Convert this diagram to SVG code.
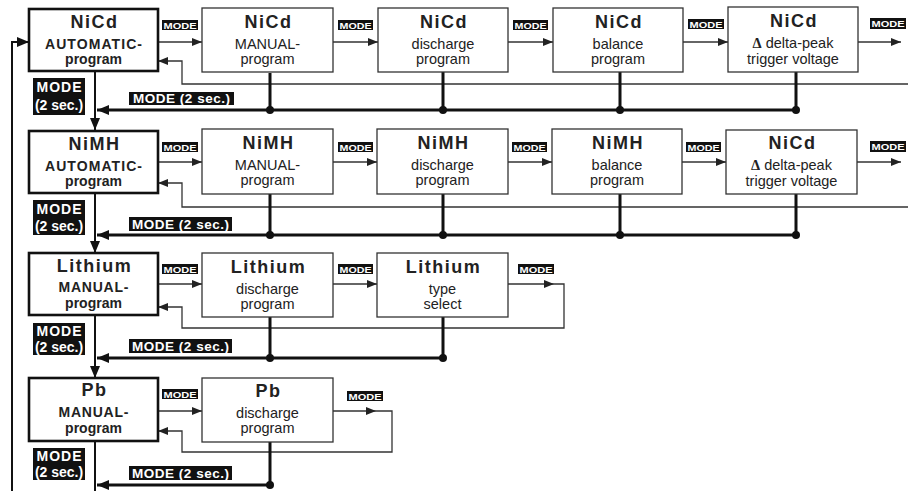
<svg xmlns="http://www.w3.org/2000/svg" width="908" height="491" viewBox="0 0 908 491">
<style>
.box{fill:#fff;stroke:#333;stroke-width:1.3}
.mbox{fill:#fff;stroke:#111;stroke-width:2.6}
.t{font-family:"Liberation Sans",Arial,sans-serif;text-anchor:middle;fill:#222}
.h{font-weight:bold;font-size:18px;letter-spacing:1.5px}
.b{font-weight:bold;font-size:14px}
.r{font-size:14.5px}
.d{font-family:"Liberation Serif","Times New Roman",serif;font-weight:bold}
.thin{fill:none;stroke:#333;stroke-width:1.3}
.med{fill:none;stroke:#111;stroke-width:2}
.thick{fill:none;stroke:#111;stroke-width:3}
.lr{fill:#111}
.lt{font-family:"Liberation Sans",Arial,sans-serif;font-weight:bold;fill:#fff;text-anchor:middle}
.sm{font-size:9.5px}
.bg{font-size:13.5px}
.dot{fill:#111}
.ah{fill:#222}
</style>
<defs>
<marker id="a" markerUnits="userSpaceOnUse" markerWidth="10" markerHeight="8" refX="10" refY="4" orient="auto"><path d="M0,0 L10,4 L0,8 z" fill="#222"/></marker>
<marker id="am" markerUnits="userSpaceOnUse" markerWidth="12" markerHeight="10" refX="12" refY="5" orient="auto"><path d="M0,0 L12,5 L0,10 z" fill="#111"/></marker>
</defs>

<g id="connectors">
<path class="med" d="M12,491 V42 H29" marker-end="url(#am)"/>
<!-- row 1 -->
<path class="med" d="M95,71 V130" marker-end="url(#am)"/>
<path class="thin" d="M158,42 H202" marker-end="url(#a)"/>
<path class="thin" d="M333,42 H378" marker-end="url(#a)"/>
<path class="thin" d="M508,42 H553" marker-end="url(#a)"/>
<path class="thin" d="M683,42 H728" marker-end="url(#a)"/>
<path class="thin" d="M858,42 H901" marker-end="url(#a)"/>
<path class="thin" d="M908,84 H182 V61 H158" marker-end="url(#a)"/>
<path class="thick" d="M270,73 V110 M443,72 V110 M620,72 V110 M796,72 V110"/>
<path class="thick" d="M796,110 H97" marker-end="url(#am)"/>
<circle class="dot" cx="270" cy="110" r="4"/><circle class="dot" cx="443" cy="110" r="4"/><circle class="dot" cx="620" cy="110" r="4"/><circle class="dot" cx="796" cy="110" r="4"/>
<!-- row 2 -->
<path class="med" d="M95,193 V253" marker-end="url(#am)"/>
<path class="thin" d="M158,162 H202" marker-end="url(#a)"/>
<path class="thin" d="M333,162 H377" marker-end="url(#a)"/>
<path class="thin" d="M508,162 H552" marker-end="url(#a)"/>
<path class="thin" d="M682,162 H726" marker-end="url(#a)"/>
<path class="thin" d="M857,162 H901" marker-end="url(#a)"/>
<path class="thin" d="M908,207 H182 V183 H158" marker-end="url(#a)"/>
<path class="thick" d="M270,194 V235 M443,194 V235 M620,194 V235 M796,194 V235"/>
<path class="thick" d="M796,235 H97" marker-end="url(#am)"/>
<circle class="dot" cx="270" cy="235" r="4"/><circle class="dot" cx="443" cy="235" r="4"/><circle class="dot" cx="620" cy="235" r="4"/><circle class="dot" cx="796" cy="235" r="4"/>
<!-- row 3 -->
<path class="med" d="M95,315 V378" marker-end="url(#am)"/>
<path class="thin" d="M158,284 H202" marker-end="url(#a)"/>
<path class="thin" d="M333,284 H377" marker-end="url(#a)"/>
<path class="thin" d="M508,284 H564 V328 H182 V307 H158" marker-end="url(#a)"/>
<path class="ah" d="M544,280 L554,284 L544,288 z"/>
<path class="thick" d="M270,317 V358 M443,317 V358"/>
<path class="thick" d="M443,358 H97" marker-end="url(#am)"/>
<circle class="dot" cx="270" cy="358" r="4"/><circle class="dot" cx="443" cy="358" r="4"/>
<!-- row 4 -->
<path class="med" d="M95,441 V491"/>
<path class="thin" d="M158,411 H202" marker-end="url(#a)"/>
<path class="thin" d="M333,411 H392 V452 H182 V431 H158" marker-end="url(#a)"/>
<path class="ah" d="M366,407 L376,411 L366,415 z"/>
<path class="thick" d="M270,442 V485"/>
<path class="thick" d="M270,485 H97" marker-end="url(#am)"/>
<circle class="dot" cx="270" cy="485" r="4"/>
</g>

<g id="labels">
<g class="lbl-small">
<rect class="lr" x="162" y="20" width="36" height="10"/><text class="lt sm" x="180" y="28.6" textLength="33" lengthAdjust="spacingAndGlyphs">MODE</text>
<rect class="lr" x="338" y="20" width="35" height="10"/><text class="lt sm" x="355.5" y="28.6" textLength="32" lengthAdjust="spacingAndGlyphs">MODE</text>
<rect class="lr" x="513" y="20" width="35" height="10"/><text class="lt sm" x="530.5" y="28.6" textLength="32" lengthAdjust="spacingAndGlyphs">MODE</text>
<rect class="lr" x="688" y="19" width="36" height="10"/><text class="lt sm" x="706" y="27.6" textLength="33" lengthAdjust="spacingAndGlyphs">MODE</text>
<rect class="lr" x="870" y="18" width="36" height="11"/><text class="lt sm" x="888" y="27" textLength="33" lengthAdjust="spacingAndGlyphs">MODE</text>
<rect class="lr" x="162" y="142" width="36" height="10"/><text class="lt sm" x="180" y="150.6" textLength="33" lengthAdjust="spacingAndGlyphs">MODE</text>
<rect class="lr" x="338" y="142" width="35" height="10"/><text class="lt sm" x="355.5" y="150.6" textLength="32" lengthAdjust="spacingAndGlyphs">MODE</text>
<rect class="lr" x="512" y="142" width="35" height="10"/><text class="lt sm" x="529.5" y="150.6" textLength="32" lengthAdjust="spacingAndGlyphs">MODE</text>
<rect class="lr" x="686" y="142" width="35" height="10"/><text class="lt sm" x="703.5" y="150.6" textLength="32" lengthAdjust="spacingAndGlyphs">MODE</text>
<rect class="lr" x="870" y="141" width="36" height="11"/><text class="lt sm" x="888" y="150" textLength="33" lengthAdjust="spacingAndGlyphs">MODE</text>
<rect class="lr" x="162" y="264" width="36" height="10"/><text class="lt sm" x="180" y="272.6" textLength="33" lengthAdjust="spacingAndGlyphs">MODE</text>
<rect class="lr" x="338" y="264" width="35" height="10"/><text class="lt sm" x="355.5" y="272.6" textLength="32" lengthAdjust="spacingAndGlyphs">MODE</text>
<rect class="lr" x="518" y="264" width="36" height="10"/><text class="lt sm" x="536" y="272.6" textLength="33" lengthAdjust="spacingAndGlyphs">MODE</text>
<rect class="lr" x="162" y="389" width="36" height="10"/><text class="lt sm" x="180" y="397.6" textLength="33" lengthAdjust="spacingAndGlyphs">MODE</text>
<rect class="lr" x="347" y="391" width="36" height="10"/><text class="lt sm" x="365" y="399.6" textLength="33" lengthAdjust="spacingAndGlyphs">MODE</text>
</g>
<g class="lbl-2sec">
<rect class="lr" x="129" y="92" width="105" height="13"/><text class="lt bg" x="181.5" y="103.3" textLength="97" lengthAdjust="spacing">MODE (2 sec.)</text>
<rect class="lr" x="129" y="217" width="103" height="14"/><text class="lt bg" x="180.5" y="228.8" textLength="97" lengthAdjust="spacing">MODE (2 sec.)</text>
<rect class="lr" x="129" y="339" width="103" height="14"/><text class="lt bg" x="180.5" y="350.8" textLength="97" lengthAdjust="spacing">MODE (2 sec.)</text>
<rect class="lr" x="129" y="466" width="103" height="14"/><text class="lt bg" x="180.5" y="477.8" textLength="97" lengthAdjust="spacing">MODE (2 sec.)</text>
<rect class="lr" x="33" y="78" width="52" height="37"/><text class="lt" font-size="14" x="59" y="92" textLength="45" lengthAdjust="spacing">MODE</text><text class="lt" font-size="14" x="59" y="110">(2 sec.)</text>
<rect class="lr" x="33" y="200" width="52" height="35"/><text class="lt" font-size="14" x="59" y="213.5" textLength="45" lengthAdjust="spacing">MODE</text><text class="lt" font-size="14" x="59" y="231">(2 sec.)</text>
<rect class="lr" x="33" y="323" width="52" height="32"/><text class="lt" font-size="14" x="59" y="336" textLength="45" lengthAdjust="spacing">MODE</text><text class="lt" font-size="14" x="59" y="352">(2 sec.)</text>
<rect class="lr" x="33" y="448" width="52" height="32"/><text class="lt" font-size="14" x="59" y="461" textLength="45" lengthAdjust="spacing">MODE</text><text class="lt" font-size="14" x="59" y="477">(2 sec.)</text>
</g>
</g>

<!-- row 1 nodes -->
<g id="nicd-auto"><rect class="mbox" x="29" y="9" width="129" height="62"/><text class="t h" x="94.5" y="28">NiCd</text><text class="t b" x="93.5" y="48.5" textLength="97" lengthAdjust="spacing">AUTOMATIC-</text><text class="t b" x="93.5" y="63.5">program</text></g>
<g id="nicd-manual"><rect class="box" x="202" y="8" width="131" height="64"/><text class="t h" x="268.5" y="28">NiCd</text><text class="t r" x="267.5" y="49">MANUAL-</text><text class="t r" x="267.5" y="64">program</text></g>
<g id="nicd-discharge"><rect class="box" x="378" y="8" width="130" height="64"/><text class="t h" x="444" y="28">NiCd</text><text class="t r" x="443" y="49">discharge</text><text class="t r" x="443" y="64">program</text></g>
<g id="nicd-balance"><rect class="box" x="553" y="8" width="130" height="64"/><text class="t h" x="619" y="28">NiCd</text><text class="t r" x="618" y="49">balance</text><text class="t r" x="618" y="64">program</text></g>
<g id="nicd-delta"><rect class="box" x="728" y="7" width="130" height="65"/><text class="t h" x="794" y="27">NiCd</text><text class="t r" x="793" y="48"><tspan class="d">Δ</tspan> delta-peak</text><text class="t r" x="793" y="64">trigger voltage</text></g>
<!-- row 2 nodes -->
<g id="nimh-auto"><rect class="mbox" x="29" y="131" width="129" height="62"/><text class="t h" x="94.5" y="150">NiMH</text><text class="t b" x="93.5" y="170.5" textLength="97" lengthAdjust="spacing">AUTOMATIC-</text><text class="t b" x="93.5" y="185.5">program</text></g>
<g id="nimh-manual"><rect class="box" x="202" y="129" width="131" height="65"/><text class="t h" x="268.5" y="149">NiMH</text><text class="t r" x="267.5" y="170">MANUAL-</text><text class="t r" x="267.5" y="185">program</text></g>
<g id="nimh-discharge"><rect class="box" x="377" y="129" width="131" height="65"/><text class="t h" x="443.5" y="149">NiMH</text><text class="t r" x="442.5" y="170">discharge</text><text class="t r" x="442.5" y="185">program</text></g>
<g id="nimh-balance"><rect class="box" x="552" y="129" width="130" height="65"/><text class="t h" x="618" y="149">NiMH</text><text class="t r" x="617" y="170">balance</text><text class="t r" x="617" y="185">program</text></g>
<g id="nimh-delta"><rect class="box" x="726" y="130" width="131" height="64"/><text class="t h" x="792.5" y="149">NiCd</text><text class="t r" x="791.5" y="170"><tspan class="d">Δ</tspan> delta-peak</text><text class="t r" x="791.5" y="186">trigger voltage</text></g>
<!-- row 3 nodes -->
<g id="li-manual"><rect class="mbox" x="29" y="253" width="129" height="62"/><text class="t h" x="94.5" y="272">Lithium</text><text class="t b" x="93.5" y="292" textLength="70" lengthAdjust="spacing">MANUAL-</text><text class="t b" x="93.5" y="307.5">program</text></g>
<g id="li-discharge"><rect class="box" x="202" y="253" width="131" height="64"/><text class="t h" x="268.5" y="273">Lithium</text><text class="t r" x="267.5" y="294">discharge</text><text class="t r" x="267.5" y="309">program</text></g>
<g id="li-type"><rect class="box" x="377" y="253" width="131" height="64"/><text class="t h" x="443.5" y="273">Lithium</text><text class="t r" x="442.5" y="294">type</text><text class="t r" x="442.5" y="309">select</text></g>
<!-- row 4 nodes -->
<g id="pb-manual"><rect class="mbox" x="29" y="378" width="129" height="63"/><text class="t h" x="94.5" y="396">Pb</text><text class="t b" x="93.5" y="417" textLength="70" lengthAdjust="spacing">MANUAL-</text><text class="t b" x="93.5" y="433">program</text></g>
<g id="pb-discharge"><rect class="box" x="202" y="378" width="131" height="64"/><text class="t h" x="268.5" y="397">Pb</text><text class="t r" x="267.5" y="418">discharge</text><text class="t r" x="267.5" y="433">program</text></g>
</svg>
